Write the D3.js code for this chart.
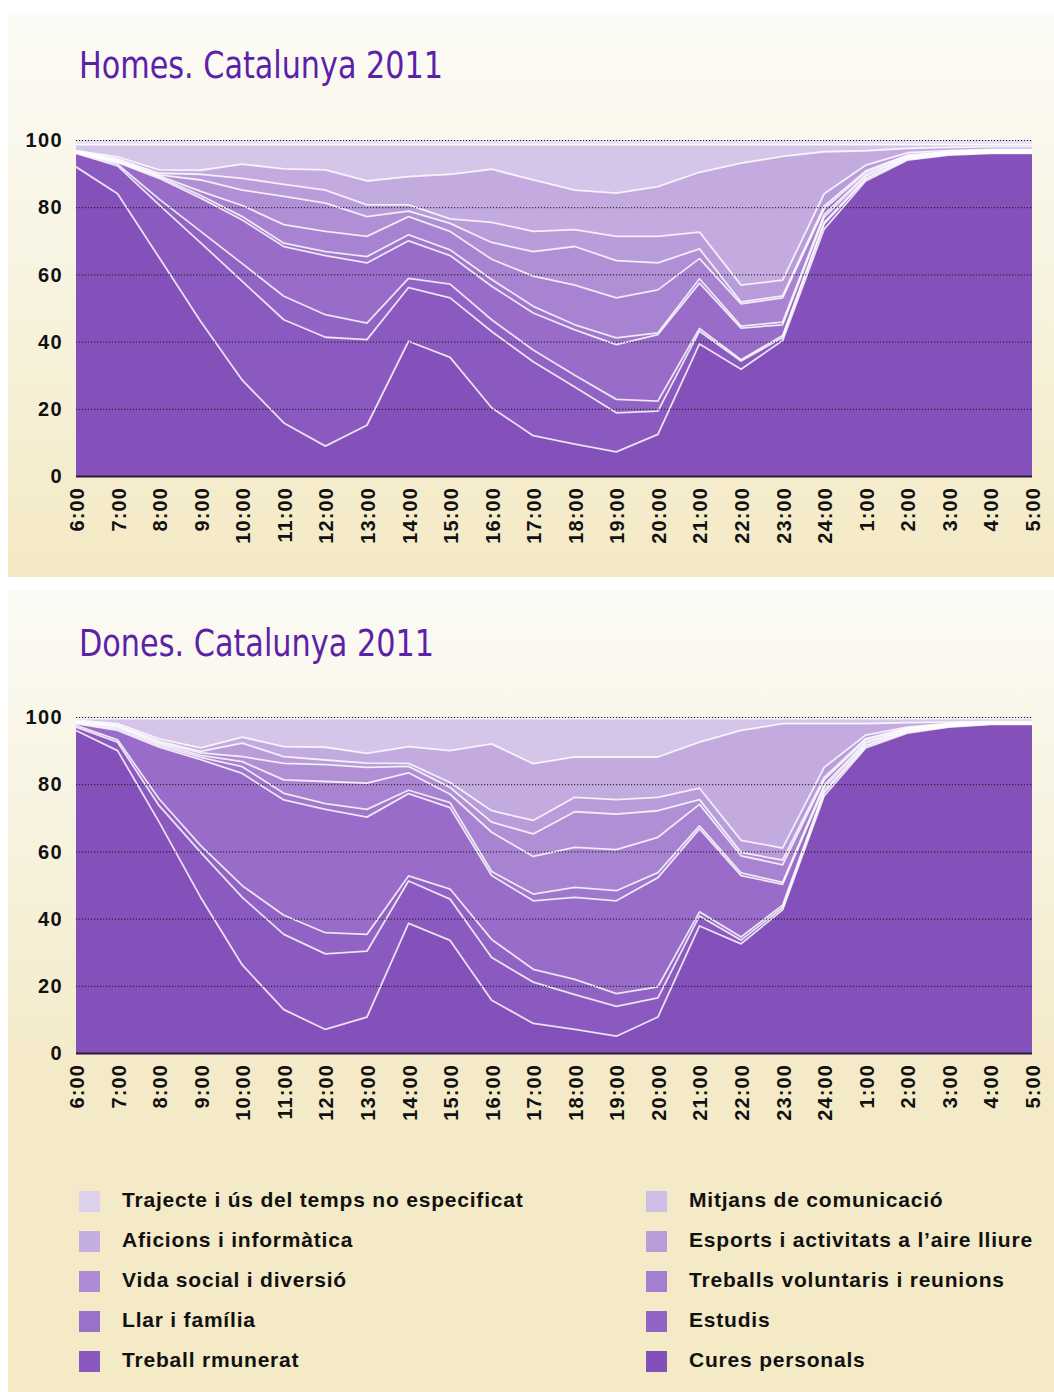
<!DOCTYPE html>
<html><head><meta charset="utf-8">
<script src="https://cdn.jsdelivr.net/npm/d3@7/dist/d3.min.js"></script>
<style>
body{margin:0;background:#fff;}
svg{display:block;}
</style>
</head><body>
<svg id="c" width="1054" height="1392"></svg>
<script>
// ---------- DATA ----------
const hours = ["6:00","7:00","8:00","9:00","10:00","11:00","12:00","13:00","14:00","15:00","16:00","17:00",
  "18:00","19:00","20:00","21:00","22:00","23:00","24:00","1:00","2:00","3:00","4:00","5:00"];
const yTicks = [0,20,40,60,80,100];

const keys = ["cures","treball","estudis","llar","voluntaris","social","esports","aficions","mitjans","trajecte","noEspecificat"];
const labels = {
  cures:"Cures personals", treball:"Treball rmunerat", estudis:"Estudis", llar:"Llar i família",
  voluntaris:"Treballs voluntaris i reunions", social:"Vida social i diversió",
  esports:"Esports i activitats a l’aire lliure", aficions:"Aficions i informàtica",
  mitjans:"Mitjans de comunicació", trajecte:"Trajecte i ús del temps no especificat",
  noEspecificat:"Ús del temps no especificat"
};
const colors = {
  cures:"#8451bb", treball:"#8a5ac0", estudis:"#9163c4", llar:"#986cc8", voluntaris:"#9f77cc",
  social:"#a883d1", esports:"#b08fd5", aficions:"#b99dda", mitjans:"#c4abdf", trajecte:"#d5c5e9",
  noEspecificat:"#e8dff2"
};
const legendColors = {
  trajecte:"#ddd1ee", mitjans:"#cfbde6", aficions:"#c4addf", esports:"#b89cda", social:"#ad8cd5",
  voluntaris:"#a47fd0", llar:"#9a71ca", estudis:"#9264c5", treball:"#8a59c0", cures:"#8350bb"
};
const legendLeft = ["trajecte","aficions","social","llar","treball"];
const legendRight = ["mitjans","esports","voluntaris","estudis","cures"];

// Homes (men) — % of population by activity per hour
const homesCures      = [92,84,65,46,28.5,15.8,8.9,15.1,40.1,35.3,20.3,12,9.5,7.2,12.4,39.3,31.8,40.3,73.5,87.8,94,95.5,96,96];
const homesTreball    = [4,8.3,15.7,23.4,29.4,30.7,32.4,25.5,16,17.7,22.7,22,17,11.6,6.9,3.8,2.4,0.9,1.5,0.5,0.3,0.2,0.2,0.2];
const homesEstudis    = [0.2,0.5,1.7,3.4,5.3,7,6.7,4.9,2.7,4.1,3.5,3.5,3.5,4,3,0.8,0.4,0.6,0.5,0.3,0.2,0.1,0.1,0.1];
const homesLlar       = [0.1,0.5,6.2,9.9,13,14.8,17.6,17.9,11.2,8.5,10,11,13.5,16.3,19.8,13.5,9.4,3.2,1.5,0.6,0.3,0.2,0.2,0.2];
const homesVoluntaris = [0.1,0.2,0.4,0.8,1,1,1.2,1.9,1.8,1.7,2,2,1.5,2,0.5,1.3,0.6,0.8,0.8,0.4,0.2,0.1,0.1,0.1];
const homesSocial     = [0.1,0.3,0.3,1.2,3.3,5.5,6,6,5.4,5.5,6,9,11.8,11.9,12.8,6,6.6,7.2,1.7,0.7,0.3,0.2,0.2,0.2];
const homesEsports    = [0.1,0.3,0.3,3.4,4.6,8.4,8.4,5.9,1.6,2.4,5,7.3,11.5,11.1,8,2.9,0.6,0.6,0.8,0.5,0.2,0.2,0.2,0.2];
const homesAficions   = [0.1,0.3,0.5,1.7,3.5,3.6,3.9,3.5,1.9,1.3,6,6,5,7.2,7.9,5,5,4.7,3.7,1.7,0.7,0.3,0.2,0.2];
const homesMitjans    = [0.1,0.6,1,1.2,4.2,4.6,6,7.1,8.4,13.3,15.8,15.3,11.8,12.9,14.8,17.8,36.3,36.8,12.5,4.3,1.3,1,0.8,0.8];
const homesTrajecte   = [1.8,3.6,7.5,7.6,5.8,7.2,7.5,10.8,9.5,8.8,7.3,10.5,13.5,14.4,12.5,8.2,5.5,3.5,2.1,1.8,1.1,0.8,0.6,0.6];
const homesNoEsp      = [1.4,1.4,1.4,1.4,1.4,1.4,1.4,1.4,1.4,1.4,1.4,1.4,1.4,1.4,1.4,1.4,1.4,1.4,1.4,1.4,1.4,1.4,1.4,1.4];

// Dones (women)
const donesCures      = [96,90,68.7,46.3,26.2,12.9,7,10.7,38.6,33.5,15.7,8.8,7,5,10.7,37.8,32.5,42.6,76.5,90.8,95.2,97,97.8,97.8];
const donesTreball    = [1,2.5,4.9,13.4,20.1,22.4,22.5,19.6,12.6,12.3,12.7,12.3,10.4,8.9,5.7,3,1.1,0.7,1,0.5,0.3,0.2,0.1,0.1];
const donesEstudis    = [0.5,0.7,2,2,3.5,5.7,6.3,5,1.5,3,5.4,3.8,4.5,3.8,3.3,1.2,0.9,0.7,0.5,0.3,0.2,0.1,0.1,0.1];
const donesLlar       = [0.5,2.8,15.4,25.6,33.4,34.3,36.7,34.9,24.5,24.2,19,20.4,24.4,27.6,32.5,24.7,18.3,6.2,1,0.6,0.3,0.2,0.1,0.1];
const donesVoluntaris = [0.2,0.5,0.5,0.7,2,2,1.7,2.3,1,1.5,1.2,2,3,3,1.5,0.9,0.8,0.6,0.7,0.4,0.2,0.1,0.1,0.1];
const donesSocial     = [0.2,0.5,0.5,0.6,1.5,4,6.6,7.8,5.2,2.5,11.7,11.2,11.9,12.2,10.5,6.4,5.1,5.2,1.6,0.6,0.3,0.2,0.1,0.1];
const donesEsports    = [0.2,0.3,0.4,0.7,1.5,4.9,5,4.7,1.9,2,3,6.7,10.6,10.6,7.9,1.4,1,1.4,0.7,0.4,0.2,0.1,0.1,0.1];
const donesAficions   = [0.2,0.3,0.4,0.5,4,2,1.4,1.3,0.9,1.5,3.4,4,4.3,4.3,4,3.4,3.6,3.6,3,1,0.3,0.2,0.1,0.1];
const donesMitjans    = [0.3,0.4,0.7,1,1.8,3,3.8,2.9,5,9.5,19.9,16.9,12,12.7,12,13.7,32.7,37,13,3.4,1.3,0.4,0.2,0.2];
const donesTrajecte   = [0.4,1.5,6,8.7,5.5,8.3,8.5,10.3,8.3,9.5,7.5,13.4,11.4,11.4,11.4,7,3.5,1.5,1.5,1.5,1.2,1,0.8,0.8];
const donesNoEsp      = [0.5,0.5,0.5,0.5,0.5,0.5,0.5,0.5,0.5,0.5,0.5,0.5,0.5,0.5,0.5,0.5,0.5,0.5,0.5,0.5,0.5,0.5,0.5,0.5];

function buildTable(arrs){
  return hours.map((h,i)=>{
    const row = {hour:h};
    keys.forEach((k,j)=>{ row[k] = arrs[j][i]; });
    return row;
  });
}
const homesTable = buildTable([homesCures,homesTreball,homesEstudis,homesLlar,homesVoluntaris,homesSocial,homesEsports,homesAficions,homesMitjans,homesTrajecte,homesNoEsp]);
const donesTable = buildTable([donesCures,donesTreball,donesEstudis,donesLlar,donesVoluntaris,donesSocial,donesEsports,donesAficions,donesMitjans,donesTrajecte,donesNoEsp]);

// ---------- DRAW ----------
const svg = d3.select("#c");
const defs = svg.append("defs");

function grad(id, stops){
  const g = defs.append("linearGradient").attr("id",id).attr("x1",0).attr("y1",0).attr("x2",0).attr("y2",1);
  stops.forEach(s=>g.append("stop").attr("offset",s[0]).attr("stop-color",s[1]));
}
grad("bg1",[[0,"#fcfbf6"],[0.45,"#f8f4e2"],[1,"#f4e9c4"]]);
grad("bg2",[[0,"#fcfbf6"],[0.25,"#f8f4e3"],[0.6,"#f4eac8"],[1,"#f4eac6"]]);

svg.append("rect").attr("x",8).attr("y",12).attr("width",1046).attr("height",565).attr("fill","url(#bg1)");
svg.append("rect").attr("x",8).attr("y",590).attr("width",1046).attr("height",802).attr("fill","url(#bg2)");

const x = d3.scalePoint().domain(hours).range([76,1032]);
const stack = d3.stack().keys(keys);
const FONT = "'Liberation Sans',Arial,Helvetica,sans-serif";

function drawChart(table, y0, y100, title, titleY, titleLen){
  const g = svg.append("g");
  const y = d3.scaleLinear().domain([0,100]).range([y0,y100]);
  const series = stack(table);

  g.append("text").text(title)
    .attr("x",79).attr("y",titleY)
    .attr("fill","#5b22a8")
    .attr("font-family","'Liberation Sans Narrow','DejaVu Sans Condensed','Roboto','Liberation Sans',sans-serif")
    .attr("font-size",37)
    .attr("textLength",titleLen).attr("lengthAdjust","spacingAndGlyphs");

  const area = d3.area().x(d=>x(d.data.hour)).y0(d=>y(d[0])).y1(d=>y(d[1]));
  g.selectAll("path.layer").data(series).join("path")
    .attr("class","layer")
    .attr("d",area)
    .attr("fill",d=>colors[d.key]);

  const line = d3.line().x(d=>x(d.data.hour)).y(d=>y(d[1]));
  g.selectAll("path.edge").data(series.slice(0,series.length-1)).join("path")
    .attr("class","edge")
    .attr("d",line)
    .attr("fill","none")
    .attr("stroke","#ffffff")
    .attr("stroke-opacity",0.8)
    .attr("stroke-width",1.8)
    .attr("stroke-linejoin","round");

  // grid lines
  const yAxis = d3.axisLeft(y).tickValues(yTicks).tickSize(-(1032-76)).tickFormat(d=>d);
  const ga = g.append("g").attr("transform","translate(76,0)").call(yAxis);
  ga.select(".domain").remove();
  ga.selectAll(".tick line")
    .attr("stroke","#1a1a1a").attr("stroke-width",1).attr("stroke-dasharray","1.2,1.8");
  ga.selectAll(".tick").filter(d=>d===0).select("line")
    .attr("stroke-dasharray",null).attr("stroke","#2a1a3a").attr("stroke-width",2);
  ga.selectAll(".tick text")
    .attr("x",-13).attr("dy","0.33em")
    .attr("fill","#111").attr("font-weight","bold").attr("font-size",20)
    .attr("letter-spacing",1.4)
    .attr("font-family",FONT);

  // x labels
  const xAxis = d3.axisBottom(x).tickSize(0);
  const gx = g.append("g").attr("transform",`translate(0,${y0})`).call(xAxis);
  gx.select(".domain").remove();
  gx.selectAll(".tick text")
    .attr("transform","translate(7.5,11) rotate(-90)")
    .attr("x",0).attr("y",0).attr("dy",0)
    .attr("text-anchor","end")
    .attr("fill","#111").attr("font-weight","bold").attr("font-size",20)
    .attr("letter-spacing",1.1)
    .attr("font-family",FONT);
}

drawChart(homesTable, 476, 140, "Homes. Catalunya 2011", 78, 364);
drawChart(donesTable, 1053, 717, "Dones. Catalunya 2011", 656, 355);

// legend
const lg = svg.append("g");
function legendCol(list, xs){
  list.forEach((k,i)=>{
    const yy = 1191 + i*40;
    lg.append("rect").attr("x",xs).attr("y",yy).attr("width",21).attr("height",21).attr("fill",legendColors[k]);
    lg.append("text").text(labels[k]).attr("x",xs+43).attr("y",yy+16)
      .attr("fill","#111").attr("font-weight","bold").attr("font-size",21)
      .attr("letter-spacing",0.8)
      .attr("font-family",FONT);
  });
}
legendCol(legendLeft,79);
legendCol(legendRight,646);
</script>
</body></html>
